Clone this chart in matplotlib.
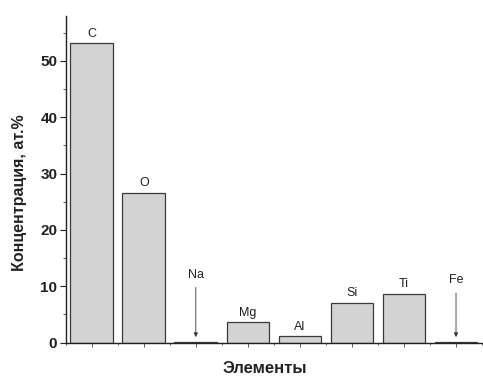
import matplotlib
matplotlib.use("Agg")
import matplotlib.pyplot as plt
import numpy as np

elements = ["C", "O", "Na", "Mg", "Al", "Si", "Ti", "Fe"]
concentration = [53.1, 26.6, 0.2, 3.6, 1.2, 7.1, 8.7, 0.2]
arrow_elements = {"Na": 11.0, "Fe": 10.0}
y_ticks = [0, 10, 20, 30, 40, 50]

plt.rcParams['font.family'] = ['Liberation Sans', 'DejaVu Sans']

fig = plt.figure(figsize=(4.83, 3.78), dpi=100)
ax = fig.add_axes([0.136, 0.0934, 0.862, 0.8653])

x = np.arange(len(elements))
ax.bar(x, concentration, width=0.82, color="#d3d3d3", edgecolor="#3a3a3a", linewidth=0.9)

for xi, el, v in zip(x, elements, concentration):
    if el in arrow_elements:
        ly = arrow_elements[el]
        ax.text(xi, ly, el, ha="center", va="bottom", fontsize=9, color="#222222")
        ax.annotate("", xy=(xi, v + 0.3), xytext=(xi, ly - 0.7),
                    arrowprops=dict(arrowstyle="-|>", color="#333333", lw=0.6,
                                    mutation_scale=6))
    else:
        ax.text(xi, v + 0.6, el, ha="center", va="bottom", fontsize=9, color="#222222")

ax.set_xlim(-0.5, 7.5)
ax.set_ylim(0, 58)
ax.set_yticks(y_ticks)
ax.set_yticks(np.arange(5, 58, 10), minor=True)
ax.set_xticks(x)
ax.set_xticklabels([])
ax.set_xticks(np.arange(-0.5, 7.6, 1), minor=True)

for s in ["top", "right"]:
    ax.spines[s].set_visible(False)
ax.spines["left"].set_linewidth(1.0)
ax.spines["bottom"].set_linewidth(1.0)
ax.spines["left"].set_color("#222222")
ax.spines["bottom"].set_color("#222222")

ax.tick_params(axis="y", which="major", direction="out", length=4, width=0.8,
               labelsize=11, colors="#222222", pad=2)
ax.tick_params(axis="y", which="minor", direction="out", length=2, width=0.6, colors="#444444")
ax.tick_params(axis="x", which="major", direction="out", length=3, width=0.6, colors="#444444")
ax.tick_params(axis="x", which="minor", direction="out", length=1.5, width=0.6, colors="#444444")
for lbl in ax.get_yticklabels():
    lbl.set_fontweight("bold")

ax.set_ylabel("Концентрация, ат.%", fontsize=11.5, fontweight="bold", color="#222222")
ax.yaxis.set_label_coords(-0.11, 0.46)
ax.yaxis.label.set_va("center")
ax.set_xlabel("Элементы", fontsize=12, fontweight="bold", color="#222222")
ax.xaxis.set_label_coords(0.479, -0.080)
ax.xaxis.label.set_va("center")

fig.savefig("out.png", dpi=100)
